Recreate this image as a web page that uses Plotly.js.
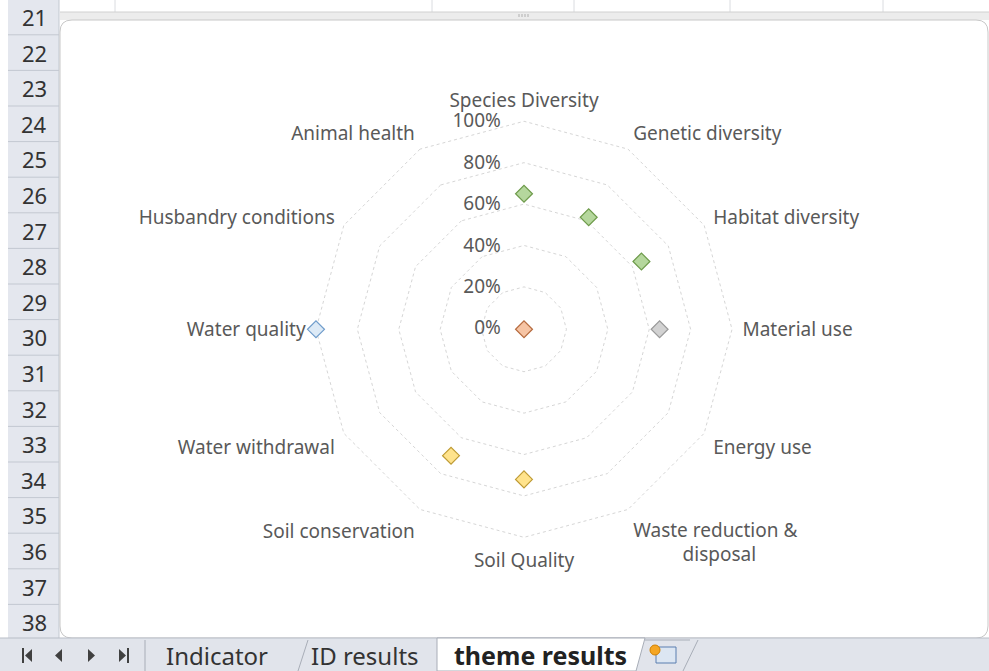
<!DOCTYPE html>
<html>
<head>
<meta charset="utf-8">
<script src="https://cdn.plot.ly/plotly-3.0.1.min.js"></script>
<style>html,body{margin:0;padding:0;background:#fff;}#chart{width:989px;height:671px;}</style>
</head>
<body>
<div id="chart"></div>
<script>
// ---- data ----
var categories = ["Species Diversity", "Genetic diversity", "Habitat diversity", "Material use",
  "Energy use", "Waste reduction &amp;<br>&nbsp;&nbsp;&nbsp;&nbsp;&nbsp;&nbsp;&nbsp;&nbsp;&nbsp;&nbsp;disposal", "Soil Quality", "Soil conservation",
  "Water withdrawal", "Water quality", "Husbandry conditions", "Animal health"];
var biodiversity = [0.65, 0.62, 0.65, null, null, null, null, null, null, null, null, null];
var materials    = [null, null, null, 0.65, null, null, null, null, null, null, null, null];
var energy       = [null, null, null, null, 0, null, null, null, null, null, null, null];
var soil         = [null, null, null, null, null, null, 0.72, 0.70, null, null, null, null];
var water        = [null, null, null, null, null, null, null, null, null, 1.0, null, null];
var radialTicks  = [0, 0.2, 0.4, 0.6, 0.8, 1.0];
var rowNumbers   = [21,22,23,24,25,26,27,28,29,30,31,32,33,34,35,36,37,38];
var sheetTabs    = ["Indicator", "ID results", "theme results"];

// ---- helpers ----
var W = 989, H = 671;
function px(x){ return x / W; }
function py(y){ return 1 - y / H; }
function rect(x0,y0,x1,y1,fill,line,lw){
  return {type:'rect', xref:'paper', yref:'paper', x0:px(x0), x1:px(x1), y0:py(y1), y1:py(y0),
    fillcolor:fill, line:{color:line||'rgba(0,0,0,0)', width:lw||0}, layer:'below'};
}
function ln(x0,y0,x1,y1,color,w){
  return {type:'line', xref:'paper', yref:'paper', x0:px(x0), x1:px(x1), y0:py(y0), y1:py(y1),
    line:{color:color, width:w||1}, layer:'below'};
}
function pathP(pts, fill, line, layer){
  var d = pts.map(function(p,i){ return (i?'L':'M') + px(p[0]) + ',' + py(p[1]); }).join(' ') + ' Z';
  return {type:'path', xref:'paper', yref:'paper', path:d, fillcolor:fill,
    line:{color:line||'rgba(0,0,0,0)', width: line?1:0}, layer:layer||'below'};
}

var shapes = [];
var annotations = [];

// top grid area (row 20)
[115, 432, 574, 730, 883].forEach(function(x){ shapes.push(ln(x, 0, x, 13, '#DADCE0', 1)); });
// row header column
shapes.push(rect(8, 0, 59, 638, '#E4E7EE', null));
shapes.push(ln(59, 0, 59, 638, '#C3C8D1', 1));
rowNumbers.forEach(function(n, i){
  var yc = 17 + i * 35.6;
  shapes.push(ln(8, yc + 17.8, 59, yc + 17.8, '#C3C8D1', 1));
  annotations.push({xref:'paper', yref:'paper', x:px(34), y:py(yc), text:String(n), showarrow:false,
    xanchor:'center', yanchor:'middle', font:{family:'Liberation Sans Narrow, Noto Sans, sans-serif', size:22, color:'#333333'}});
});
// chart frame band + white chart area
shapes.push(rect(60, 12, 989, 20, '#ECECEC', null));
shapes.push(ln(60, 12, 989, 12, '#D0D0D0', 1));
[519, 522, 525, 528].forEach(function(x){ shapes.push(ln(x, 14, x, 17, '#B0B0B0', 1)); });
shapes.push({type:'path', xref:'paper', yref:'paper', layer:'below', fillcolor:'#FFFFFF',
  line:{color:'#C8C8C8', width:1},
  path:'M'+px(60)+','+py(32)+' Q'+px(60)+','+py(20)+' '+px(72)+','+py(20)+
       ' L'+px(976)+','+py(20)+' Q'+px(988)+','+py(20)+' '+px(988)+','+py(32)+
       ' L'+px(988)+','+py(626)+' Q'+px(988)+','+py(638)+' '+px(976)+','+py(638)+
       ' L'+px(72)+','+py(638)+' Q'+px(60)+','+py(638)+' '+px(60)+','+py(626)+' Z'});

// sheet tab bar
shapes.push(rect(0, 638, 989, 671, '#E1E4EB', null));
shapes.push(ln(0, 638, 989, 638, '#B8BDC7', 1));
// nav arrows
shapes.push(ln(23, 648, 23, 663, '#404040', 2));
shapes.push(pathP([[25,655.5],[32,649],[32,662]], '#404040'));
shapes.push(pathP([[55,655.5],[62,649],[62,662]], '#404040'));
shapes.push(pathP([[95,655.5],[88,649],[88,662]], '#404040'));
shapes.push(pathP([[126,655.5],[119,649],[119,662]], '#404040'));
shapes.push(ln(128, 648, 128, 663, '#404040', 2));
// tabs
shapes.push(ln(145, 640, 145, 671, '#A8ADB7', 1));
shapes.push(ln(298, 671, 308, 640, '#A8ADB7', 1));
shapes.push(pathP([[437,638],[645,638],[636,671],[437,671]], '#FFFFFF', '#A8ADB7', 'below'));
shapes.push(ln(683, 671, 698, 640, '#A8ADB7', 1));
shapes.push(ln(645, 640, 690, 640, '#A8ADB7', 1));
// new-sheet icon
shapes.push(rect(656, 647, 676, 663, '#DCE6F2', '#5B7FB0', 1));
shapes.push({type:'circle', xref:'paper', yref:'paper', x0:px(650), x1:px(660), y0:py(655), y1:py(645),
  fillcolor:'#F5A623', line:{color:'#D08000', width:1}, layer:'below'});

var tabFont = 'Liberation Sans Narrow, Noto Sans, sans-serif';
annotations.push({xref:'paper', yref:'paper', x:px(217), y:py(655), text:sheetTabs[0], showarrow:false,
  xanchor:'center', yanchor:'middle', font:{family:tabFont, size:24, color:'#333333'}});
annotations.push({xref:'paper', yref:'paper', x:px(365), y:py(655), text:sheetTabs[1], showarrow:false,
  xanchor:'center', yanchor:'middle', font:{family:tabFont, size:24, color:'#333333'}});
annotations.push({xref:'paper', yref:'paper', x:px(540), y:py(655), text:'<b>'+sheetTabs[2]+'</b>', showarrow:false,
  xanchor:'center', yanchor:'middle', font:{family:tabFont, size:25, color:'#222222'}});

// ---- traces ----
function series(name, vals, fill, border, subplot){
  return {type:'scatterpolar', mode:'markers', name:name, theta:categories, r:vals,
    subplot: subplot || 'polar',
    marker:{symbol:'diamond', size:13, color:fill, line:{color:border, width:1.2}},
    cliponaxis:false, hoverinfo:'skip'};
}
var data = [
  series('Biodiversity', biodiversity, '#B5D79D', '#6E9B4B'),
  series('Materials', materials, '#D2D2D2', '#9A9A9A'),
  series('Energy', energy, '#F6C4A4', '#B66B3F', 'polar2'),
  series('Soil', soil, '#FFE38C', '#BE9A33'),
  series('Water', water, '#DDEAF6', '#6F9CCB')
];

var chartFont = 'Noto Sans, sans-serif';
var rMin = -0.005, rMax = 1.01;
var R = 207 * (rMax - rMin); // pixel radius of the plotted range
var domain = {x:[px(524 - R), px(524 + R)], y:[py(329.3 + R), py(329.3 - R)]};
var layout = {
  width: W, height: H,
  margin:{l:0, r:0, t:0, b:0},
  paper_bgcolor:'#FFFFFF',
  showlegend:false,
  shapes: shapes,
  annotations: annotations,
  polar:{
    domain: domain,
    bgcolor:'rgba(0,0,0,0)',
    gridshape:'linear',
    radialaxis:{range:[rMin, rMax], tickvals:radialTicks, tickformat:'.0%', angle:90, tickangle:90,
      side:'counterclockwise', showline:false, ticks:'outside', ticklen:16, tickcolor:'rgba(0,0,0,0)',
      showgrid:true, gridcolor:'#D6D6D6', griddash:'dot',
      gridwidth:1, tickfont:{family:chartFont, size:19, color:'#595959'}},
    angularaxis:{type:'category', categoryorder:'array', categoryarray:categories,
      direction:'clockwise', rotation:90, showgrid:false, showline:false,
      ticks:'outside', ticklen:4, tickcolor:'rgba(0,0,0,0)',
      tickfont:{family:chartFont, size:19, color:'#595959'}}
  },
  // overlay subplot (circular) so the 0% point at the centre is drawn
  polar2:{
    domain: domain,
    bgcolor:'rgba(0,0,0,0)',
    gridshape:'circular',
    radialaxis:{range:[0, rMax], visible:false, showgrid:false, showline:false, showticklabels:false, ticks:''},
    angularaxis:{type:'category', categoryorder:'array', categoryarray:categories,
      direction:'clockwise', rotation:90, visible:false, showgrid:false, showline:false,
      showticklabels:false, ticks:''}
  }
};

Plotly.newPlot('chart', data, layout, {staticPlot:true, displayModeBar:false});
</script>
</body>
</html>
